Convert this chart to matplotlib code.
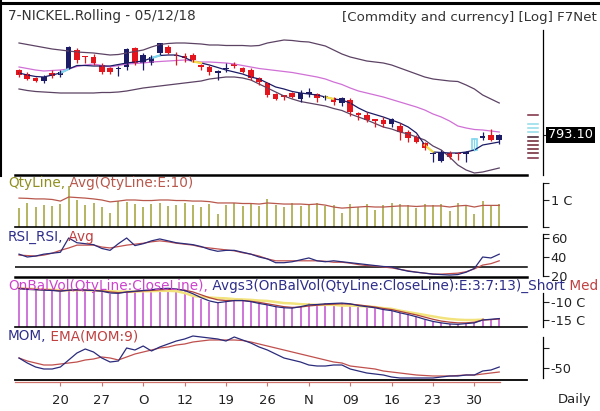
import matplotlib
matplotlib.use("Agg")
import matplotlib.pyplot as plt
import matplotlib.transforms as mtransforms
import numpy as np

# ---- price candles (daily, 59 sessions) ----
opens = [923, 916, 907, 902, 918, 913, 926, 963, 951, 949, 933, 927, 925, 929, 967, 937, 937, 957, 969, 953,
         951, 953, 934, 930, 918, 925, 935, 927, 923, 907, 897, 875, 872, 878, 866, 876, 875, 867, 867, 858,
         863, 837, 833, 825, 823, 815, 811, 799, 789, 777, 755, 742, 757, 757, 755, 763, 787, 793, 783]
highs = [925, 920, 909, 913, 923, 923, 971, 967, 952, 955, 937, 930, 931, 967, 970, 957, 953, 978, 973, 959,
         957, 957, 935, 933, 923, 937, 939, 929, 927, 909, 899, 877, 873, 880, 883, 887, 877, 873, 869, 870,
         867, 839, 839, 826, 829, 827, 817, 803, 793, 779, 759, 763, 761, 759, 761, 787, 799, 805, 795]
lows = [909, 903, 899, 898, 908, 909, 925, 937, 937, 933, 915, 915, 911, 923, 933, 923, 933, 953, 955, 933,
        939, 939, 923, 913, 903, 919, 927, 917, 903, 893, 869, 863, 863, 867, 860, 869, 860, 863, 853, 851,
        831, 823, 819, 809, 809, 809, 783, 779, 777, 763, 739, 739, 746, 743, 740, 761, 783, 781, 775]
closes = [913, 906, 901, 909, 911, 920, 970, 943, 949, 937, 919, 919, 928, 965, 937, 953, 949, 977, 957, 951,
          947, 943, 930, 920, 919, 927, 931, 919, 907, 899, 873, 865, 870, 870, 878, 880, 867, 871, 859, 867,
          839, 833, 823, 822, 815, 825, 799, 787, 779, 767, 757, 759, 749, 755, 759, 785, 791, 783, 793.1]

bb_upper = [977, 974, 971, 968, 965, 963, 961, 959, 958, 957, 955, 953, 954, 957, 960, 963, 969, 974, 976, 977,
            977, 976, 975, 973, 973, 972, 972, 972, 971, 972, 977, 980, 983, 982, 980, 979, 975, 971, 963, 955,
            949, 945, 941, 939, 937, 933, 927, 921, 915, 909, 905, 903, 901, 900, 893, 885, 873, 865, 857]
bb_mid = [929, 926, 923, 921, 922, 923, 925, 930, 933, 935, 932, 929, 932, 935, 936, 937, 939, 940, 941, 942,
          943, 941, 939, 939, 938, 937, 935, 932, 929, 926, 924, 922, 920, 918, 915, 912, 909, 905, 899, 894,
          887, 881, 877, 873, 869, 864, 859, 854, 849, 843, 835, 829, 821, 811, 807, 804, 803, 801, 799]
bb_lower = [885, 882, 880, 879, 878, 877, 877, 877, 877, 877, 878, 878, 879, 881, 884, 887, 889, 891, 893, 895,
            897, 899, 901, 905, 907, 909, 909, 907, 903, 895, 887, 879, 871, 865, 860, 857, 854, 851, 846, 842,
            835, 829, 823, 816, 809, 805, 799, 795, 789, 783, 771, 763, 749, 733, 723, 717, 719, 723, 727]
short_ma = [917, 913, 910, 909, 913, 917, 925, 932, 932, 931, 931, 931, 934, 937, 939, 941, 947, 952, 953, 953,
            948, 940, 937, 933, 928, 923, 919, 915, 909, 905, 897, 889, 885, 880, 877, 875, 873, 869, 865, 863,
            857, 847, 839, 834, 829, 823, 817, 809, 797, 773, 759, 758, 757, 757, 759, 763, 773, 776, 779]
cyan_segments = [5, 16]
yellow_segments = [21, 37, 49]
hollow_bars = [55]

ladder_levels = [833.1, 815.1, 807.1, 799.1, 789.1, 781.1, 773.1, 765.1, 757.1, 747.1]
ladder_colors = ["#7a2a3e", "#8fdbe8", "#8fdbe8", "#8fdbe8", "#3a1a2a",
                 "#6b2030", "#6b2030", "#6b2030", "#6b2030", "#7a2a3e"]

# ---- quantity (crore) ----
qty = [0.70, 0.89, 0.74, 0.81, 0.78, 0.85, 1.52, 1.00, 0.81, 0.89, 0.74, 0.52, 0.96, 0.93, 0.85, 0.74, 0.85, 0.89,
       0.78, 0.81, 0.89, 0.81, 0.74, 0.85, 0.48, 0.81, 0.89, 0.78, 0.85, 0.78, 1.04, 0.81, 0.74, 0.89, 0.78, 0.85,
       0.89, 0.78, 0.81, 0.52, 0.85, 0.74, 0.85, 0.63, 0.81, 0.89, 0.85, 0.81, 0.70, 0.85, 0.81, 0.85, 0.59, 0.89,
       0.81, 0.48, 0.96, 0.81, 0.85]
qty_avg = [1.07, 1.06, 1.04, 1.04, 1.02, 0.96, 1.11, 1.09, 1.07, 1.04, 1.00, 0.93, 0.96, 1.00, 1.00, 0.98, 0.98,
           1.00, 1.00, 0.98, 0.98, 0.96, 0.96, 0.94, 0.89, 0.89, 0.89, 0.87, 0.87, 0.85, 0.89, 0.87, 0.85, 0.85,
           0.85, 0.83, 0.85, 0.81, 0.74, 0.70, 0.72, 0.74, 0.76, 0.74, 0.74, 0.76, 0.78, 0.78, 0.76, 0.78, 0.78,
           0.78, 0.74, 0.78, 0.80, 0.74, 0.80, 0.80, 0.80]

# ---- RSI ----
rsi = [43, 40, 41, 43, 44, 45, 60, 55, 54, 53, 49, 47, 54, 60, 52, 54, 57, 59, 57, 55,
       54, 53, 51, 48, 46, 47, 47, 45, 43, 40, 38, 34, 34, 35, 37, 39, 36, 35, 36, 35,
       34, 33, 32, 31, 30, 29.5, 27, 25, 24, 23, 22, 21.5, 21, 21.5, 24, 28, 40, 39, 43]
rsi_avg = [42, 41.5, 41, 42, 44, 47, 49.5, 52.5, 52.5, 52.5, 50.5, 49.5, 51, 52.5, 53.5, 54.5, 56, 57, 56, 54.5,
           53.5, 52.5, 50.5, 49.5, 48.5, 47.5, 46.5, 44.5, 43, 41, 38, 36, 36, 36, 36, 36, 36, 35.5, 34.5, 34.5,
           33.5, 32, 31, 30.5, 29.5, 28.5, 27, 25.5, 24, 23, 22, 22, 22.5, 23, 24.5, 27.5, 31.5, 33, 36]

# ---- on balance volume (crore) ----
obv = [-6.1, -6.4, -6.7, -6.7, -6.9, -7.2, -6.4, -6.4, -6.7, -6.9, -7.2, -7.8, -7.8, -6.9, -6.9, -6.7, -6.4, -6.1,
       -6.1, -6.4, -6.9, -8.1, -9.2, -10.0, -10.3, -9.7, -9.4, -9.6, -10.0, -10.6, -10.8, -11.4, -11.7, -11.7,
       -11.1, -10.4, -10.6, -10.3, -10.4, -10.3, -10.6, -11.1, -11.4, -11.7, -12.2, -12.5, -13.1, -13.6, -14.2,
       -15.0, -15.6, -15.8, -16.1, -16.0, -15.8, -15.6, -14.4, -14.7, -14.4]
obv_short = [-6.3, -6.5, -6.6, -6.7, -6.8, -7.0, -6.7, -6.6, -6.7, -6.8, -7.0, -7.5, -7.6, -7.2, -7.0, -6.8, -6.6,
             -6.3, -6.2, -6.4, -6.8, -7.7, -8.8, -9.7, -10.2, -9.9, -9.6, -9.6, -9.9, -10.4, -10.8, -11.3, -11.6,
             -11.7, -11.3, -10.8, -10.7, -10.5, -10.4, -10.3, -10.5, -11.0, -11.3, -11.6, -12.1, -12.4, -13.0,
             -13.5, -14.1, -14.8, -15.4, -15.8, -16.1, -16.2, -16.0, -15.8, -15.0, -14.8, -14.6]
obv_med = [-6.2, -6.3, -6.5, -6.6, -6.7, -6.9, -6.8, -6.7, -6.7, -6.8, -6.9, -7.2, -7.4, -7.3, -7.1, -6.9, -6.8,
           -6.6, -6.5, -6.5, -6.7, -7.2, -8.0, -8.8, -9.4, -9.6, -9.6, -9.6, -9.8, -10.1, -10.5, -10.9, -11.3,
           -11.5, -11.4, -11.1, -10.9, -10.7, -10.6, -10.5, -10.6, -10.8, -11.1, -11.4, -11.8, -12.1, -12.6,
           -13.1, -13.6, -14.2, -14.8, -15.3, -15.6, -15.8, -15.8, -15.6, -15.0, -14.9, -14.7]
obv_long = [-6.2, -6.3, -6.4, -6.5, -6.6, -6.7, -6.7, -6.7, -6.7, -6.8, -6.9, -7.0, -7.1, -7.1, -7.1, -7.0, -7.0,
            -6.9, -6.9, -7.0, -7.5, -8.3, -8.6, -8.75, -8.9, -9.0, -9.2, -9.3, -9.4, -9.6, -9.7, -10.0, -10.3,
            -10.4, -10.6, -10.7, -10.8, -10.8, -10.8, -11.0, -11.0, -11.1, -11.25, -11.4, -11.7, -11.9, -12.4,
            -12.8, -13.2, -13.6, -14.0, -14.4, -14.7, -14.9, -15.0, -15.0, -14.9]

# ---- momentum ----
mom = [-25, -37.5, -47.5, -52.5, -52.5, -47.5, -30, -12.5, -2.5, -10, -25, -35, -32.5, 0, -5, 5, -7.5, 2.5, 10,
       17.5, 22.5, 30, 27.5, 25, 22.5, 17.5, 27.5, 20, 12.5, 2.5, -5, -15, -25, -30, -35, -42.5, -45, -45, -42.5,
       -42.5, -52.5, -57.5, -62.5, -65, -67.5, -72.5, -75, -75, -75, -75, -75, -72.5, -70, -70, -67.5, -67.5,
       -57.5, -55, -47.5]
mom_ema = [-25, -32.5, -37.5, -42.5, -42.5, -40, -37.5, -35, -30, -27.5, -22.5, -25, -30, -22.5, -15, -10, -5, 0,
           2.5, 7.5, 10, 15, 17.5, 20, 20, 20, 20, 18.75, 15, 10, 5, 0, -5, -10, -15, -20, -25, -30, -35, -37.5,
           -45, -47.5, -50, -52.5, -57.5, -60, -62.5, -65, -67.5, -68.75, -70, -70, -70, -68.75, -67.5, -67.5,
           -65, -62.5, -60]

tick_pos = [5, 10, 15, 20, 25, 30, 35, 40, 45, 50, 55]
tick_labels = ["20", "27", "O", "12", "19", "26", "N", "09", "16", "23", "30"]

NAVY = "#1b1b66"
RED = "#e3161e"
LNAVY = "#2b2b7c"
LRED = "#c0504d"
W, H = 600, 411
XEND = 512 / 528
FS = 9.8

plt.rcParams["font.family"] = "DejaVu Sans"
fig = plt.figure(figsize=(6, 4.11), dpi=100)
x = np.arange(len(closes))


def panel(top, bottom):
    ax = fig.add_axes([15 / W, 1 - bottom / H, 528 / W, (bottom - top) / H])
    for s in ("top", "left", "bottom"):
        ax.spines[s].set_visible(False)
    ax.patch.set_alpha(0)
    ax.set_xlim(-4 / 8.28, 524 / 8.28)
    ax.set_xticks([])
    ax.yaxis.tick_right()
    ax.spines["right"].set_linewidth(0.9)
    ax.tick_params(axis="y", direction="out", length=4, width=0.8, labelsize=9.3, pad=1.5, colors="#222")
    return ax


# price panel
ax = panel(22, 174.5)
ax.set_ylim(714, 1019)
ax.spines["right"].set_bounds(714, 1003)
ax.plot(x, bb_upper, color="#5c4364", lw=0.9)
ax.plot(x, bb_lower, color="#5c4364", lw=0.9)
ax.plot(x, bb_mid, color="#d070d6", lw=0.9)
ax.plot(x, short_ma, color=NAVY, lw=0.9)
for i in cyan_segments:
    ax.plot(x[i:i + 2], short_ma[i:i + 2], color="#7fd6ee", lw=1.6)
for i in yellow_segments:
    ax.plot(x[i:i + 2], short_ma[i:i + 2], color="#f5e04a", lw=1.6)
for i in range(len(closes)):
    o, h, l, c = opens[i], highs[i], lows[i], closes[i]
    col = NAVY if c >= o else RED
    if i in hollow_bars:
        ax.vlines(i, l, h, color="#7fd6ee", lw=0.9)
        ax.bar(i, abs(c - o), bottom=min(o, c), width=0.7, facecolor="white", edgecolor="#7fd6ee", lw=1.2)
        continue
    ax.vlines(i, l, h, color=col, lw=0.9)
    ax.bar(i, max(abs(c - o), 2.5), bottom=min(o, c), width=0.68, color=col, lw=0)
ax.axhline(714, xmax=XEND, color="k", lw=1.8, clip_on=False)
ax.set_yticks([793.1])
ax.set_yticklabels([""])
tr = mtransforms.blended_transform_factory(ax.transAxes, ax.transData)
for lev, col in zip(ladder_levels, ladder_colors):
    ax.plot([XEND + 0.002, 0.99], [lev, lev], transform=tr, color=col, lw=1.1, clip_on=False)
ax.text(1.01, closes[-1], "%.2f" % closes[-1], transform=tr, color="white", fontsize=9.3, va="center",
        ha="left", bbox=dict(facecolor="black", edgecolor="none", pad=1.3))

# quantity panel
ax = panel(174.5, 227)
ax.set_ylim(0, 1.944)
ax.vlines(x, 0, qty, color="#a0a035", lw=1.1)
ax.plot(x, qty_avg, color="#b8584c", lw=0.9)
ax.axhline(0, xmax=XEND, color="k", lw=1.2, clip_on=False)
ax.spines["right"].set_bounds(0, 1.63)
ax.set_yticks([0, 1, 1.63])
ax.set_yticklabels(["", "1 C", ""])

# RSI panel
ax = panel(227, 277)
ax.set_ylim(18.95, 71.58)
ax.axhline(30, xmax=XEND, color="k", lw=1.1)
ax.plot(x, rsi_avg, color=LRED, lw=0.9)
ax.plot(x, rsi, color=LNAVY, lw=0.9)
ax.axhline(18.95, xmax=XEND, color="k", lw=1.8, clip_on=False)
ax.spines["right"].set_bounds(20, 64)
ax.set_yticks([20, 40, 60, 64])
ax.set_yticklabels(["20", "40", "60", ""])

# OBV panel
ax = panel(277, 327.5)
ax.set_ylim(-17.083, -3.056)
ax.vlines(x, -17.083, obv, color="#c24fd0", lw=1.1)
ax.plot(np.arange(len(obv_long)), obv_long, color="#f3e37c", lw=1.8)
ax.plot(x, obv_med, color="#b0403a", lw=0.9)
ax.plot(x, obv_short, color=LNAVY, lw=0.9)
ax.axhline(-17.083, xmax=XEND, color="k", lw=1.2, clip_on=False)
ax.spines["right"].set_bounds(-17.08, -7.5)
ax.set_yticks([-10, -15])
ax.set_yticklabels(["-10 C", "-15 C"])

# momentum panel
ax = panel(327.5, 379.5)
ax.set_ylim(-78.75, 51.25)
ax.plot(x, mom_ema, color=LRED, lw=0.9)
ax.plot(x, mom, color=LNAVY, lw=0.9)
ax.axhline(-78.75, xmax=XEND, color="k", lw=1.3, clip_on=False)
ax.spines["right"].set_bounds(-75, 27.5)
ax.set_yticks([0, -50])
ax.set_yticklabels(["", "-50"])
ax.spines["bottom"].set_visible(True)
ax.spines["bottom"].set_position(("outward", 1.6))
ax.spines["bottom"].set_color("#d0706a")
ax.spines["bottom"].set_linewidth(0.9)
ax.spines["bottom"].set_bounds(-0.48, 58.1)
ax.set_xticks(tick_pos)
ax.set_xticklabels(tick_labels)
ax.tick_params(axis="x", direction="out", length=3, width=0.8, color="#d0706a", labelcolor="#222",
               labelsize=9.5, pad=5.5)


def label(ypx, parts):
    t = fig.text(8 / W, 1 - ypx / H, parts[0][0], color=parts[0][1], fontsize=FS, va="center", ha="left")
    for s, c in parts[1:]:
        t = ax.annotate(s, xy=(1, 0), xycoords=t, va="bottom", ha="left", color=c, fontsize=FS)


label(16, [("7-NICKEL.Rolling - 05/12/18", "#333333")])
fig.text(597 / W, 1 - 18 / H, "[Commdity and currency] [Log] F7Net", color="#333333", fontsize=9.6,
         va="center", ha="right")
label(183, [("QtyLine,", "#8f8f1f"), (" Avg(QtyLine:E:10)", "#b8584c")])
label(237, [("RSI_RSI,", "#2e2e8a"), (" Avg", "#c04040")])
label(286, [("OnBalVol(QtyLine:CloseLine),", "#cc44cc"),
            (" Avgs3(OnBalVol(QtyLine:CloseLine):E:3:7:13)_Short", "#2e2e8a"), (" Med", "#c04040")])
label(336, [("MOM,", "#2e2e8a"), (" EMA(MOM:9)", "#c04040")])
fig.text(575 / W, 1 - 399 / H, "Daily", color="#222", fontsize=9.5, va="center", ha="center")

fig.add_artist(plt.Line2D([0, 1], [1 - 3.3 / H, 1 - 3.3 / H], color="k", lw=2.2))
fig.add_artist(plt.Line2D([1 / W, 1 / W], [1, 1 - 176 / H], color="k", lw=1.5))

fig.savefig("out.png", dpi=100)
